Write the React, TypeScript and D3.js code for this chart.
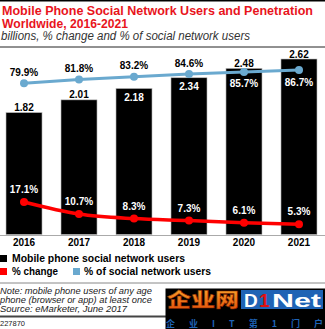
import React from "react";
import * as d3 from "d3";

const years = ["2016", "2017", "2018", "2019", "2020", "2021"];
const users = [1.82, 2.01, 2.18, 2.34, 2.48, 2.62];
const pctChange = [17.1, 10.7, 8.3, 7.3, 6.1, 5.3];
const pctSocial = [79.9, 81.8, 83.2, 84.6, 85.7, 86.7];
const userLabelInside = [false, false, true, true, false, false];
const socialLabelBelow = [false, false, false, false, true, true];

const W = 325;
const H = 329;
const FONT = "'Liberation Sans', Arial, sans-serif";

export default function App() {
  const x = d3.scaleBand<string>().domain(years).range([6, 317]).paddingInner(0.345).paddingOuter(0);
  const yBar = d3.scaleLinear().domain([0, 2.62]).range([234.5, 59]);
  const ySocial = d3.scaleLinear().domain([79.9, 86.7]).range([83.3, 70]);
  const yChange = d3.scaleLinear().domain([0, 17.1]).range([234.3, 202]);
  const cx = (i: number) => (x(years[i]) as number) + x.bandwidth() / 2;

  const socialLine = d3.line<number>().x((_, i) => cx(i)).y((d) => ySocial(d)).curve(d3.curveLinear);
  const changeLine = d3.line<number>().x((_, i) => cx(i)).y((d) => yChange(d)).curve(d3.curveMonotoneX);

  const blue = "#6aa9cf";
  const red = "#ff0000";

  return (
    <svg width={W} height={H} style={{ position: "fixed", left: 0, top: 0, background: "#fff" }} fontFamily={FONT}>
      <defs>
        <linearGradient id="orng" x1="0" y1="0" x2="0" y2="1">
          <stop offset="0" stopColor="#ffb030" />
          <stop offset="1" stopColor="#e04a08" />
        </linearGradient>
      </defs>
      <rect width={W} height={H} fill="#fff" />
      <line x1={0} x2={W} y1={0.75} y2={0.75} stroke="#000" strokeWidth={1.5} />
      <text x={2} y={15} fill="#e8141c" fontWeight="bold" fontSize={13.5} textLength={311} lengthAdjust="spacingAndGlyphs">
        Mobile Phone Social Network Users and Penetration
      </text>
      <text x={2} y={28} fill="#e8141c" fontWeight="bold" fontSize={13.5} textLength={126} lengthAdjust="spacingAndGlyphs">
        Worldwide, 2016-2021
      </text>
      <text x={1} y={40} fill="#333" fontStyle="italic" fontSize={12} textLength={249} lengthAdjust="spacingAndGlyphs">
        billions, % change and % of social network users
      </text>
      <line x1={0} x2={W} y1={47} y2={47} stroke="#222" strokeWidth={1} />

      {users.map((v, i) => (
        <rect key={years[i]} x={x(years[i])} y={yBar(v)} width={x.bandwidth()} height={yBar(0) - yBar(v)} fill="#000" stroke="#bbb" strokeWidth={0.6} />
      ))}
      <line x1={0} x2={W} y1={235.5} y2={235.5} stroke="#aaa" strokeWidth={1} />

      {users.map((v, i) => (
        <text key={"ul" + i} x={cx(i)} y={userLabelInside[i] ? yBar(v) + 12.5 : yBar(v) - 1.5} textAnchor="middle" fontWeight="bold" fontSize={10} fill={userLabelInside[i] ? "#fff" : "#000"}>
          {v.toFixed(2)}
        </text>
      ))}

      <path d={socialLine(pctSocial) || ""} fill="none" stroke={blue} strokeWidth={3} />
      {pctSocial.map((v, i) => (
        <circle key={"sc" + i} cx={cx(i)} cy={ySocial(v)} r={4} fill={blue} />
      ))}
      {pctSocial.map((v, i) => (
        <text key={"sl" + i} x={cx(i)} y={socialLabelBelow[i] ? ySocial(v) + 15.5 : ySocial(v) - 7.5} textAnchor="middle" fontWeight="bold" fontSize={10} fill={socialLabelBelow[i] ? "#fff" : "#000"}>
          {v.toFixed(1)}%
        </text>
      ))}

      <path d={changeLine(pctChange) || ""} fill="none" stroke={red} strokeWidth={3.5} />
      {pctChange.map((v, i) => (
        <circle key={"cc" + i} cx={cx(i)} cy={yChange(v)} r={4} fill={red} />
      ))}
      {pctChange.map((v, i) => (
        <text key={"cl" + i} x={cx(i)} y={yChange(v) - 9} textAnchor="middle" fontWeight="bold" fontSize={10} fill="#fff">
          {v.toFixed(1)}%
        </text>
      ))}

      {years.map((yr, i) => (
        <text key={"yr" + yr} x={cx(i)} y={246} textAnchor="middle" fontWeight="bold" fontSize={10} fill="#000">
          {yr}
        </text>
      ))}

      <rect x={0} y={255} width={7} height={7} fill="#000" />
      <text x={12} y={262} fontWeight="bold" fontSize={10} fill="#000" textLength={173} lengthAdjust="spacingAndGlyphs">Mobile phone social network users</text>
      <rect x={0} y={268} width={7} height={7} fill={red} />
      <text x={12} y={275} fontWeight="bold" fontSize={10} fill="#000" textLength={46} lengthAdjust="spacingAndGlyphs">% change</text>
      <rect x={73} y={268} width={7} height={7} fill={blue} />
      <text x={84} y={275} fontWeight="bold" fontSize={10} fill="#000" textLength={127} lengthAdjust="spacingAndGlyphs">% of social network users</text>

      <line x1={0} x2={W} y1={283} y2={283} stroke="#888" strokeWidth={1} />
      <text x={0} y={294} fontStyle="italic" fontSize={9.3} fill="#222">Note: mobile phone users of any age</text>
      <text x={0} y={303} fontStyle="italic" fontSize={9.3} fill="#222">phone (browser or app) at least once</text>
      <text x={0} y={312} fontStyle="italic" fontSize={9.3} fill="#222" textLength={127} lengthAdjust="spacingAndGlyphs">Source: eMarketer, June 2017</text>
      <line x1={0} x2={W} y1={316.5} y2={316.5} stroke="#444" strokeWidth={2} />
      <text x={0} y={326} fontSize={7.5} fill="#222">227870</text>

      <rect x={165.5} y={288.5} width={160} height={41} fill="#000" />
      <text x={167} y={307} fontFamily="'Noto Sans CJK SC'" fontWeight={900} fontSize={19} fill="url(#orng)" stroke="#7a2000" strokeWidth={0.5} textLength={72} lengthAdjust="spacingAndGlyphs">
        企业网
      </text>
      <rect x={241} y={290} width={82} height={19} fill="#1f63b5" />
      <text x={244} y={307} fontWeight="bold" fontSize={19} fill="#fff">D</text>
      <text x={259} y={307} fontWeight="bold" fontSize={19} fill="#e01010">1</text>
      <text x={272} y={307} fontWeight="bold" fontSize={19} fill="#fff" textLength={49} lengthAdjust="spacingAndGlyphs">Net</text>
      <text x={166} y={327} fontFamily="'Noto Sans CJK SC'" fontWeight="bold" fontSize={9} fill="#1f63b5" textLength={157} lengthAdjust="spacing">
        企 业 I T 第 1 门 户
      </text>
    </svg>
  );
}
